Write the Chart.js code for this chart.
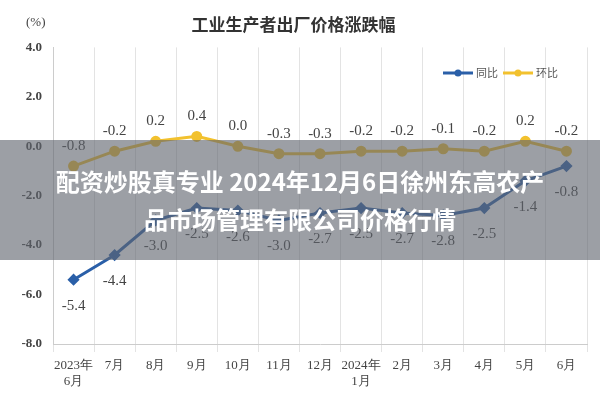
<!DOCTYPE html>
<html>
<head>
<meta charset="utf-8">
<script src="https://cdn.jsdelivr.net/npm/chart.js@4"></script>
<style>
  body { margin: 0; background: #fff; }
  #wrap { position: relative; width: 600px; height: 400px; }
  #banner {
    position: absolute; left: 0; top: 140px; width: 600px; height: 120px;
    background: rgba(95, 100, 110, 0.62); color: #fff;
    font: bold 24px "Noto Sans CJK SC", sans-serif; text-align: center;
    line-height: 38px; padding-top: 22px; box-sizing: border-box;
  }
</style>
</head>
<body>
<div id="wrap">
  <canvas id="c" width="600" height="400"></canvas>
  <div id="banner">配资炒股真专业 2024年12月6日徐州东高农产<br>品市场管理有限公司价格行情</div>
</div>
<script>
// 月份
const months = [['2023年', '6月'], '7月', '8月', '9月', '10月', '11月', '12月', ['2024年', '1月'], '2月', '3月', '4月', '5月', '6月'];
// 同比
const yoy = [-5.4, -4.4, -3.0, -2.5, -2.6, -3.0, -2.7, -2.5, -2.7, -2.8, -2.5, -1.4, -0.8];
// 环比
const mom = [-0.8, -0.2, 0.2, 0.4, 0.0, -0.3, -0.3, -0.2, -0.2, -0.1, -0.2, 0.2, -0.2];
const yTicks = [4, 2, 0, -2, -4, -6, -8];

const serif = '"Liberation Serif", serif';
const blue = '#2a5fa8', yellow = '#f2c12e';

// 数据标签 + 图例
const labelPlugin = {
  id: 'labels',
  afterDatasetsDraw(chart) {
    const ctx = chart.ctx;
    ctx.save();
    ctx.font = '15px ' + serif;
    ctx.fillStyle = '#444';
    ctx.textAlign = 'center';
    chart.data.datasets.forEach((ds, i) => {
      chart.getDatasetMeta(i).data.forEach((pt, j) => {
        const v = ds.data[j];
        const dy = i === 0 ? 30 : -16;
        ctx.fillText(v.toFixed(1), pt.x, pt.y + dy);
      });
    });
    // 单位
    ctx.font = '13px ' + serif;
    ctx.textAlign = 'left';
    ctx.fillText('(%)', 26, 26);
    // 图例
    const items = [['同比', blue, 443], ['环比', yellow, 503]];
    ctx.font = '11px "Noto Sans CJK SC"';
    ctx.textBaseline = 'middle';
    items.forEach(([t, c, x]) => {
      const y = 73;
      ctx.strokeStyle = c; ctx.lineWidth = 3;
      ctx.beginPath(); ctx.moveTo(x, y); ctx.lineTo(x + 30, y); ctx.stroke();
      ctx.fillStyle = c;
      ctx.beginPath(); ctx.arc(x + 15, y, 3.5, 0, Math.PI * 2); ctx.fill();
      ctx.fillStyle = '#555';
      ctx.fillText(t, x + 33, y);
    });
    ctx.restore();
  }
};

new Chart(document.getElementById('c'), {
  type: 'line',
  data: {
    labels: months,
    datasets: [
      { label: '同比', data: yoy, borderColor: blue, backgroundColor: blue,
        borderWidth: 3, pointStyle: 'rectRot', pointRadius: 4, tension: 0 },
      { label: '环比', data: mom, borderColor: yellow, backgroundColor: yellow,
        borderWidth: 3, pointStyle: 'circle', pointRadius: 4, tension: 0 }
    ]
  },
  options: {
    responsive: false,
    animation: false,
    layout: { padding: { left: 0, right: 13, top: 0, bottom: 0 } },
    plugins: {
      title: {
        display: true, text: '工业生产者出厂价格涨跌幅', color: '#333',
        font: { family: '"Noto Sans CJK SC"', size: 17, weight: 'bold' },
        padding: { top: 14, bottom: 13 }
      },
      legend: { display: false },
      tooltip: { enabled: false }
    },
    scales: {
      x: {
        offset: true,
        afterFit: s => { s.height = 56; },
        grid: { color: '#e3e3e3', offset: true },
        border: { color: '#ccc' },
        ticks: { color: '#444', font: { family: serif, size: 13 }, maxRotation: 0, autoSkip: false, padding: 6 }
      },
      y: {
        min: -8, max: 4,
        afterFit: s => { s.width = 53; },
        afterBuildTicks: axis => { axis.ticks = yTicks.map(v => ({ value: v })); },
        grid: { display: false },
        border: { color: '#ccc' },
        ticks: { color: '#444', font: { family: serif, size: 13, weight: 'bold' },
          callback: v => v.toFixed(1) }
      }
    }
  },
  plugins: [labelPlugin]
});
</script>
</body>
</html>
